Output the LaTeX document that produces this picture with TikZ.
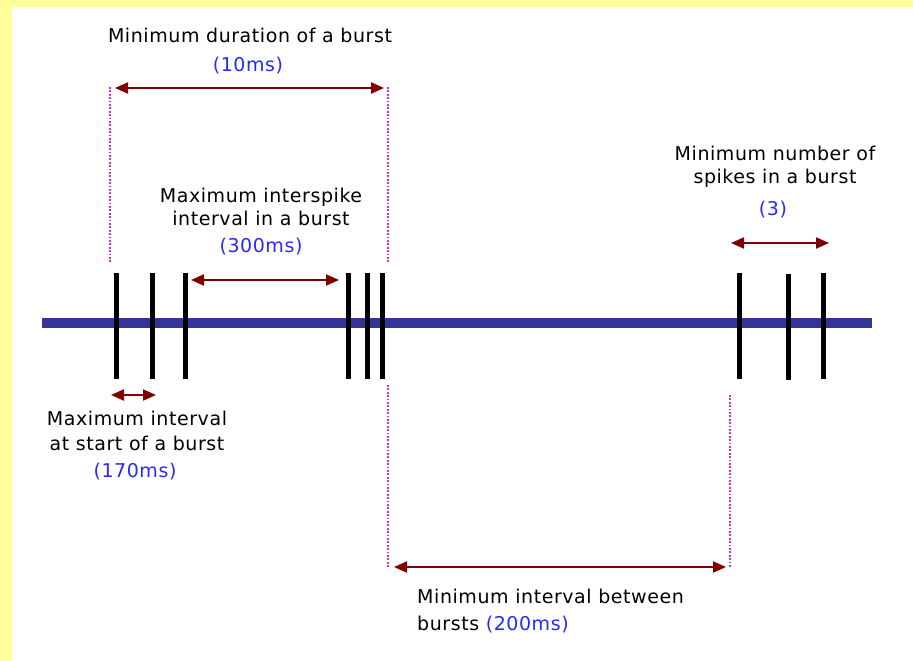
\documentclass[tikz,border=0pt]{standalone}
\usepackage{fontspec}
\setmainfont[LetterSpace=3]{DejaVu Sans}
\usetikzlibrary{arrows.meta}
\definecolor{bgyellow}{RGB}{255,255,153}
\definecolor{axisblue}{RGB}{51,51,153}
\definecolor{arrred}{RGB}{128,0,0}
\definecolor{dotmag}{RGB}{204,51,204}
\definecolor{txtblue}{RGB}{40,40,255}
\tikzset{
  lbl/.style={font=\fontsize{19}{22}\selectfont, text=black, inner sep=0pt, anchor=base},
  lblleft/.style={lbl, anchor=base west},
  spikebox/.style={fill=black, draw=none, minimum width=5pt, minimum height=106pt, inner sep=0pt},
  axisbar/.style={fill=axisblue, draw=none, minimum width=830pt, minimum height=10pt, inner sep=0pt},
  dim/.style={draw=arrred, line width=2pt, {Triangle[length=13pt,width=11pt]}-{Triangle[length=13pt,width=11pt]}},
  guide/.style={draw=dotmag, line width=2pt, dash pattern=on 1.8pt off 1.6pt},
}
\newcommand{\ms}[1]{\textcolor{txtblue}{#1}}
\begin{document}
\begin{tikzpicture}[x=1pt,y=-1pt]
\useasboundingbox (0,0) rectangle (913,661);
\fill[bgyellow] (0,0) rectangle (913,661);
\fill[white] (12,7) rectangle (913,661);

% axis
\node[axisbar] (axis) at (457,323) {};

% spikes
\node[spikebox] (s1) at (116,325.5) {};
\node[spikebox] (s2) at (152,325.5) {};
\node[spikebox] (s3) at (185,325.5) {};
\node[spikebox] (s4) at (348,325.5) {};
\node[spikebox] (s5) at (367,325.5) {};
\node[spikebox] (s6) at (382,325.5) {};
\node[spikebox] (s7) at (739,326) {};
\node[spikebox] (s8) at (788,326.5) {};
\node[spikebox] (s9) at (823,326) {};

% guide lines
\coordinate (g1t) at (110,87);
\coordinate (g1b) at (110,262);
\coordinate (g2t) at (388,87);
\coordinate (g2b) at (388,262);
\coordinate (g3t) at (388,385);
\coordinate (g3b) at (388,568);
\coordinate (g4t) at (730,395);
\coordinate (g4b) at (730,568);
\draw[guide] (g1t) -- (g1b);
\draw[guide] (g2t) -- (g2b);
\draw[guide] (g3t) -- (g3b);
\draw[guide] (g4t) -- (g4b);

% dimension arrows
\coordinate (d1l) at (115,88);  \coordinate (d1r) at (384,88);
\coordinate (d2l) at (191,280); \coordinate (d2r) at (339,280);
\coordinate (d3l) at (111,395); \coordinate (d3r) at (156,395);
\coordinate (d4l) at (731,243); \coordinate (d4r) at (829,243);
\coordinate (d5l) at (394,567); \coordinate (d5r) at (726,567);
\draw[dim] (d1l) -- (d1r);
\draw[dim] (d2l) -- (d2r);
\draw[dim] (d3l) -- (d3r);
\draw[dim] (d4l) -- (d4r);
\draw[dim] (d5l) -- (d5r);

% labels
\node[lbl] (t1a) at (250,43) {Minimum duration of a burst};
\node[lbl] (t1b) at (248,71) {\ms{(10ms)}};
\node[lbl] (t2a) at (261,202) {Maximum interspike};
\node[lbl] (t2b) at (261,225) {interval in a burst};
\node[lbl] (t2c) at (261,252) {\ms{(300ms)}};
\node[lbl] (t3a) at (775,160) {Minimum number of};
\node[lbl] (t3b) at (775,183) {spikes in a burst};
\node[lbl] (t3c) at (773,215) {\ms{(3)}};
\node[lbl] (t4a) at (137,425) {Maximum interval};
\node[lbl] (t4b) at (137,450) {at start of a burst};
\node[lbl] (t4c) at (135,477) {\ms{(170ms)}};
\node[lblleft] (t5a) at (417,603) {Minimum interval between};
\node[lblleft] (t5b) at (417,630) {bursts \ms{(200ms)}};
\end{tikzpicture}
\end{document}
